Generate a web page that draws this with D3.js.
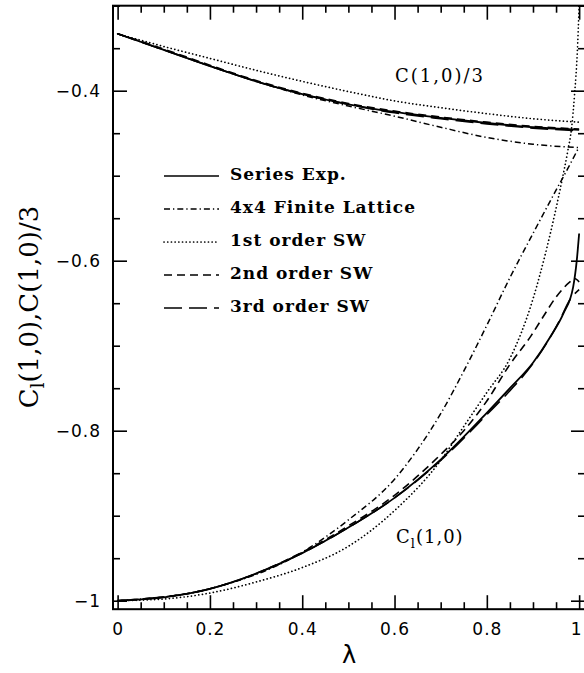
<!DOCTYPE html>
<html>
<head>
<meta charset="utf-8">
<script src="https://cdn.jsdelivr.net/npm/d3@7"></script>
<style>
  body { margin: 0; background: #fff; }
  svg { display: block; }
</style>
</head>
<body>
<script>
// C(1,0)/3 curves, common lambda grid
const lamUpper = [0, 0.1, 0.2, 0.3, 0.4, 0.5, 0.6, 0.7, 0.8, 0.9, 1.0];
const seriesUpper  = [-0.333, -0.352, -0.371, -0.389, -0.404, -0.416, -0.425, -0.432, -0.438, -0.443, -0.446];
const latticeUpper = [-0.333, -0.352, -0.371, -0.389, -0.405, -0.418, -0.430, -0.443, -0.455, -0.463, -0.467];
const sw1Upper     = [-0.333, -0.348, -0.362, -0.376, -0.389, -0.401, -0.412, -0.420, -0.427, -0.433, -0.437];
const sw2Upper     = [-0.333, -0.351, -0.370, -0.388, -0.403, -0.415, -0.424, -0.431, -0.437, -0.442, -0.445];
const sw3Upper     = [-0.333, -0.352, -0.371, -0.389, -0.404, -0.416, -0.426, -0.433, -0.439, -0.444, -0.447];

// C_l(1,0) curves
const seriesLowLam = [0, 0.1, 0.2, 0.3, 0.4, 0.5, 0.6, 0.7, 0.8, 0.85, 0.9, 0.937, 0.966, 0.987, 0.995, 1.0];
const seriesLow    = [-1, -0.996, -0.986, -0.968, -0.944, -0.914, -0.879, -0.834, -0.779, -0.750, -0.720, -0.690, -0.662, -0.631, -0.599, -0.568];
const latticeLowLam = [0, 0.2, 0.4, 0.5, 0.6, 0.65, 0.7, 0.75, 0.8, 0.85, 0.9, 0.95, 0.975, 1.0];
const latticeLow    = [-1, -0.986, -0.943, -0.905, -0.857, -0.822, -0.780, -0.730, -0.676, -0.620, -0.568, -0.517, -0.492, -0.466];
const sw1LowLam = [0, 0.1, 0.2, 0.3, 0.4, 0.5, 0.6, 0.7, 0.75, 0.8, 0.85, 0.9, 0.93, 0.963, 0.975, 0.984, 0.99, 0.996, 1.0];
const sw1Low    = [-1, -0.998, -0.991, -0.978, -0.961, -0.936, -0.894, -0.835, -0.795, -0.755, -0.715, -0.645, -0.585, -0.505, -0.472, -0.442, -0.405, -0.355, -0.30];
const sw2LowLam = [0, 0.2, 0.4, 0.5, 0.6, 0.7, 0.75, 0.8, 0.85, 0.895, 0.922, 0.951, 0.98, 0.99, 1.0];
const sw2Low    = [-1, -0.986, -0.943, -0.912, -0.876, -0.828, -0.800, -0.765, -0.722, -0.689, -0.666, -0.642, -0.625, -0.621, -0.625];
const sw3LowLam = [0, 0.2, 0.4, 0.5, 0.6, 0.7, 0.8, 0.85, 0.9, 0.958, 0.98, 1.0];
const sw3Low    = [-1, -0.986, -0.944, -0.914, -0.879, -0.835, -0.781, -0.753, -0.721, -0.670, -0.646, -0.634];

const legendLabels = ["Series Exp.", "4x4 Finite Lattice", "1st order SW", "2nd order SW", "3rd order SW"];
const xTickValues = [0, 0.2, 0.4, 0.6, 0.8, 1];
const xTickLabels = ["0", "0.2", "0.4", "0.6", "0.8", "1"];
const yTickValues = [-1, -0.8, -0.6, -0.4];
const yTickLabels = ["\u22121", "\u22120.8", "\u22120.6", "\u22120.4"];

// line styles per method
const styles = [
  { dash: null, width: 1.8 },
  { dash: "6,3,1.3,3", width: 1.5 },
  { dash: "0.1,3.6", width: 1.7, cap: "round" },
  { dash: "8,5", width: 1.6 },
  { dash: "18,7", width: 1.6 }
];

const W = 584, H = 673;
const x = d3.scaleLinear().domain([-0.01, 1.0127]).range([113, 585]);
const y = d3.scaleLinear().domain([-1.01, -0.3]).range([609.2, 5.7]);
const [x0, x1] = x.range();
const [y1, y0] = y.range();

const svg = d3.select(document.body).append('svg')
  .attr('width', W)
  .attr('height', H);

svg.append('defs').append('clipPath').attr('id', 'plotclip')
  .append('rect')
  .attr('x', x0).attr('y', y0)
  .attr('width', x1 - x0).attr('height', y1 - y0);

const zip = (lam, vals) => lam.map((l, i) => [l, vals[i]]);

const curves = [
  { style: 0, pts: zip(lamUpper, seriesUpper) },
  { style: 1, pts: zip(lamUpper, latticeUpper) },
  { style: 2, pts: zip(lamUpper, sw1Upper) },
  { style: 3, pts: zip(lamUpper, sw2Upper) },
  { style: 4, pts: zip(lamUpper, sw3Upper) },
  { style: 0, pts: zip(seriesLowLam, seriesLow) },
  { style: 1, pts: zip(latticeLowLam, latticeLow) },
  { style: 2, pts: zip(sw1LowLam, sw1Low) },
  { style: 3, pts: zip(sw2LowLam, sw2Low) },
  { style: 4, pts: zip(sw3LowLam, sw3Low) }
];

const line = d3.line()
  .x(d => x(d[0]))
  .y(d => y(d[1]))
  .curve(d3.curveMonotoneX);

svg.append('g')
  .attr('clip-path', 'url(#plotclip)')
  .selectAll('path')
  .data(curves)
  .enter().append('path')
  .attr('d', d => line(d.pts))
  .attr('fill', 'none')
  .attr('stroke', '#000')
  .attr('stroke-width', d => styles[d.style].width)
  .attr('stroke-dasharray', d => styles[d.style].dash)
  .attr('stroke-linecap', d => styles[d.style].cap || 'butt');

// axes: major + minor ticks on all four sides, pointing inward
const xMinor = d3.range(0, 1.001, 0.05).filter(v => !xTickValues.some(t => Math.abs(t - v) < 1e-6));
const yMinor = d3.range(-1, -0.299, 0.05).filter(v => !yTickValues.some(t => Math.abs(t - v) < 1e-6));

function styleAxis(g) {
  g.select('.domain').remove();
  g.selectAll('.tick line').attr('stroke', '#000').attr('stroke-width', 1.6);
  g.selectAll('.tick text')
    .attr('fill', '#000')
    .style('font-family', '"DejaVu Sans", sans-serif')
    .style('font-size', '17px')
    .style('letter-spacing', '1px');
}

svg.append('g').attr('transform', `translate(0,${y1})`)
  .call(d3.axisBottom(x).tickValues(xTickValues).tickSize(-14).tickPadding(14)
    .tickFormat((d, i) => xTickLabels[i]))
  .call(styleAxis)
  .call(g => g.selectAll('.tick text').filter(d => d === 1).attr('dx', -3));
svg.append('g').attr('transform', `translate(0,${y1})`)
  .call(d3.axisBottom(x).tickValues(xMinor).tickSize(-7).tickFormat(''))
  .call(styleAxis);
svg.append('g').attr('transform', `translate(0,${y0})`)
  .call(d3.axisTop(x).tickValues(xTickValues).tickSize(-14).tickFormat(''))
  .call(styleAxis);
svg.append('g').attr('transform', `translate(0,${y0})`)
  .call(d3.axisTop(x).tickValues(xMinor).tickSize(-7).tickFormat(''))
  .call(styleAxis);

svg.append('g').attr('transform', `translate(${x0},0)`)
  .call(d3.axisLeft(y).tickValues(yTickValues).tickSize(-14).tickPadding(12)
    .tickFormat((d, i) => yTickLabels[i]))
  .call(styleAxis);
svg.append('g').attr('transform', `translate(${x0},0)`)
  .call(d3.axisLeft(y).tickValues(yMinor).tickSize(-7).tickFormat(''))
  .call(styleAxis);
svg.append('g').attr('transform', `translate(${x1},0)`)
  .call(d3.axisRight(y).tickValues(yTickValues).tickSize(-14).tickFormat(''))
  .call(styleAxis);
svg.append('g').attr('transform', `translate(${x1},0)`)
  .call(d3.axisRight(y).tickValues(yMinor).tickSize(-7).tickFormat(''))
  .call(styleAxis);

// frame
svg.append('rect')
  .attr('x', x0).attr('y', y0)
  .attr('width', x1 - x0).attr('height', y1 - y0)
  .attr('fill', 'none')
  .attr('stroke', '#000')
  .attr('stroke-width', 2);

// legend
const legend = svg.append('g');
legendLabels.forEach((label, i) => {
  const by = 180 + i * 33;
  const st = styles[i];
  legend.append('line')
    .attr('x1', 164).attr('x2', 219)
    .attr('y1', by - 4).attr('y2', by - 4)
    .attr('stroke', '#000')
    .attr('stroke-width', i === 0 ? 1.5 : st.width)
    .attr('stroke-dasharray', st.dash)
    .attr('stroke-linecap', st.cap || 'butt');
  legend.append('text')
    .attr('x', 230).attr('y', by)
    .style('font-family', '"DejaVu Serif", serif')
    .style('font-weight', 'bold')
    .style('font-size', '17px')
    .style('letter-spacing', '1px')
    .text(label);
});

// curve labels
svg.append('text')
  .attr('x', 395).attr('y', 82)
  .style('font-family', '"DejaVu Serif", serif')
  .style('font-size', '18px')
  .style('letter-spacing', '2px')
  .text('C(1,0)/3');

const cl = svg.append('text')
  .attr('x', 396).attr('y', 543)
  .style('font-family', '"DejaVu Serif", serif')
  .style('font-size', '18px')
  .style('letter-spacing', '1px');
cl.append('tspan').text('C');
cl.append('tspan').attr('dy', 5).style('font-size', '13px').text('l');
cl.append('tspan').attr('dy', -5).text('(1,0)');

// axis titles
svg.append('text')
  .attr('x', 349).attr('y', 663)
  .attr('text-anchor', 'middle')
  .style('font-family', '"DejaVu Sans", sans-serif')
  .style('font-size', '24px')
  .text('\u03bb');

const yt = svg.append('text')
  .attr('transform', 'translate(38,307) rotate(-90)')
  .attr('text-anchor', 'middle')
  .style('font-family', '"DejaVu Serif", serif')
  .style('font-size', '26px');
yt.append('tspan').text('C');
yt.append('tspan').attr('dy', 6).style('font-size', '18px').text('l');
yt.append('tspan').attr('dy', -6).text('(1,0),C(1,0)/3');
</script>
</body>
</html>
